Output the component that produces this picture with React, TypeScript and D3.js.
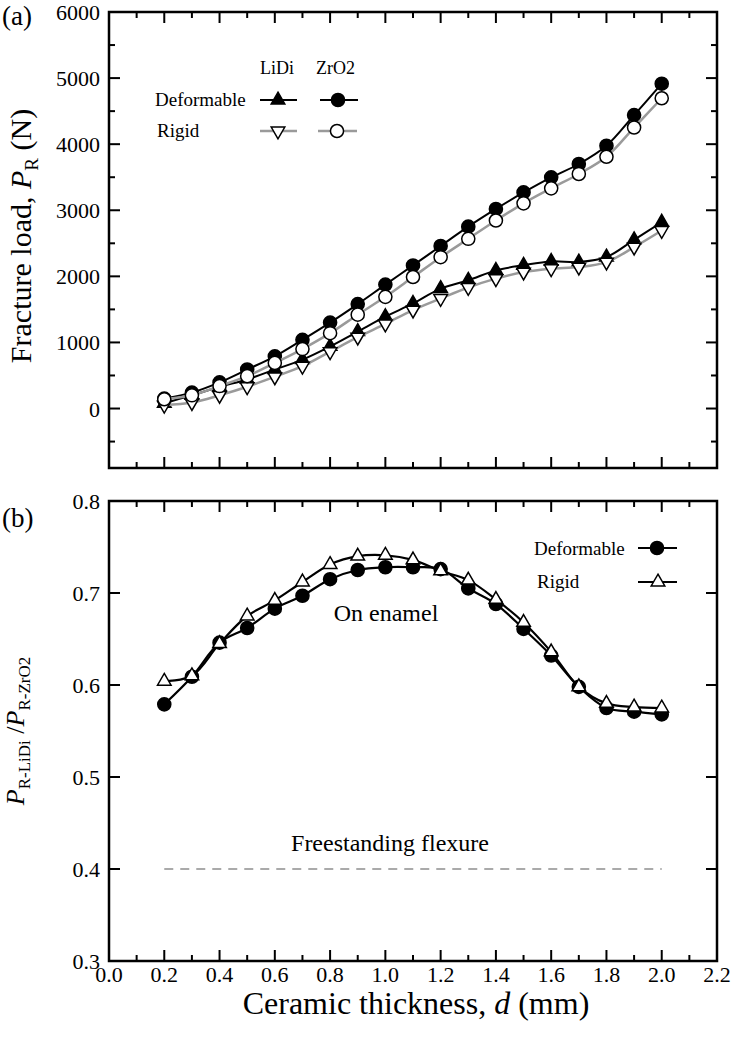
import React from "react";
import * as d3 from "d3";

const thickness = [0.2, 0.3, 0.4, 0.5, 0.6, 0.7, 0.8, 0.9, 1.0, 1.1, 1.2, 1.3, 1.4, 1.5, 1.6, 1.7, 1.8, 1.9, 2.0];
const zro2Deformable = [150, 240, 395, 590, 790, 1040, 1300, 1580, 1875, 2165, 2460, 2752, 3020, 3270, 3498, 3700, 3976, 4440, 4915];
const zro2Rigid = [140, 200, 340, 490, 690, 900, 1140, 1420, 1690, 1990, 2290, 2568, 2845, 3105, 3332, 3549, 3810, 4252, 4695];
const lidiDeformable = [80, 200, 330, 440, 590, 740, 940, 1165, 1390, 1590, 1815, 1940, 2090, 2168, 2226, 2216, 2292, 2553, 2819];
const lidiRigid = [50, 90, 200, 330, 480, 640, 860, 1080, 1280, 1490, 1665, 1832, 1965, 2065, 2116, 2140, 2216, 2442, 2694];

const ratioDeformable = [0.579, 0.609, 0.646, 0.662, 0.683, 0.697, 0.715, 0.725, 0.728, 0.728, 0.726, 0.705, 0.688, 0.661, 0.632, 0.598, 0.575, 0.571, 0.568];
const ratioRigid = [0.604, 0.610, 0.645, 0.675, 0.692, 0.712, 0.731, 0.740, 0.741, 0.736, 0.724, 0.714, 0.693, 0.668, 0.636, 0.598, 0.580, 0.576, 0.575];
const freestandingRatio = 0.4;
const freestandingRange = [0.2, 2.0];

const xTickLabels = ["0.0", "0.2", "0.4", "0.6", "0.8", "1.0", "1.2", "1.4", "1.6", "1.8", "2.0", "2.2"];
const yTicksA = [0, 1000, 2000, 3000, 4000, 5000, 6000];
const yTicksB = [0.3, 0.4, 0.5, 0.6, 0.7, 0.8];

const FONT = "'Liberation Serif', 'Times New Roman', serif";
const W = 732, H = 1048;
const L = 109, R = 717;
const A_TOP = 12, A_BOT = 468;
const B_TOP = 501, B_BOT = 961;
const GRAY = "#9a9a9a";

const x = d3.scaleLinear().domain([0, 2.2]).range([L, R]);
const yA = d3.scaleLinear().domain([-900, 6000]).range([A_BOT, A_TOP]);
const yB = d3.scaleLinear().domain([0.3, 0.8]).range([B_BOT, B_TOP]);

const circlePath = d3.symbol().type(d3.symbolCircle).size(135)()!;
const triPath = d3.symbol().type(d3.symbolTriangle).size(80)()!;

function Marker({ kind, cx, cy, fill, stroke }: { kind: string; cx: number; cy: number; fill: string; stroke: string }) {
  const d = kind === "circle" ? circlePath : triPath;
  const rot = kind === "down" ? " rotate(180)" : "";
  return <path d={d} transform={`translate(${cx},${cy})${rot}`} fill={fill} stroke={stroke} strokeWidth={1.5} />;
}

function Series({ ys, yScale, color, kind, fill, width }: any) {
  const pts: [number, number][] = thickness.map((t, i) => [x(t), yScale(ys[i])]);
  const line = d3.line().curve(d3.curveCatmullRom.alpha(0.5))(pts)!;
  return (
    <g>
      <path d={line} fill="none" stroke={color} strokeWidth={width} />
      {pts.map((p, i) => (
        <Marker key={i} kind={kind} cx={p[0]} cy={p[1]} fill={fill} stroke="#000" />
      ))}
    </g>
  );
}

function Frame({ top, bot, yScale, majorY, minorY }: any) {
  const xMinor = d3.range(1, 22).map((i) => i / 10);
  const els: any[] = [];
  xMinor.forEach((v, i) => {
    const major = Math.round(v * 10) % 2 === 0;
    const len = major ? 11 : 6;
    els.push(<line key={"xb" + i} x1={x(v)} x2={x(v)} y1={bot} y2={bot - len} stroke="#000" strokeWidth={2} />);
    els.push(<line key={"xt" + i} x1={x(v)} x2={x(v)} y1={top} y2={top + len} stroke="#000" strokeWidth={2} />);
  });
  majorY.forEach((v: number, i: number) => {
    els.push(<line key={"yl" + i} x1={L} x2={L + 11} y1={yScale(v)} y2={yScale(v)} stroke="#000" strokeWidth={2} />);
    els.push(<line key={"yr" + i} x1={R} x2={R - 11} y1={yScale(v)} y2={yScale(v)} stroke="#000" strokeWidth={2} />);
  });
  minorY.forEach((v: number, i: number) => {
    els.push(<line key={"ml" + i} x1={L} x2={L + 6} y1={yScale(v)} y2={yScale(v)} stroke="#000" strokeWidth={2} />);
    els.push(<line key={"mr" + i} x1={R} x2={R - 6} y1={yScale(v)} y2={yScale(v)} stroke="#000" strokeWidth={2} />);
  });
  return (
    <g>
      {els}
      <rect x={L} y={top} width={R - L} height={bot - top} fill="none" stroke="#000" strokeWidth={2.5} />
    </g>
  );
}

export default function App() {
  const minorA = [-500, 500, 1500, 2500, 3500, 4500, 5500];
  return (
    <svg width={W} height={H} style={{ position: "absolute", left: 0, top: 0, background: "#fff" }} fontFamily={FONT}>
      <rect width={W} height={H} fill="#fff" />
      {/* Panel (a) */}
      <text x={2} y={25} fontSize={27}>(a)</text>
      <Frame top={A_TOP} bot={A_BOT} yScale={yA} majorY={yTicksA} minorY={minorA} />
      {yTicksA.map((v) => (
        <text key={v} x={100} y={yA(v) + 8} fontSize={22} textAnchor="end">{v}</text>
      ))}
      <text transform={`translate(31,${(A_TOP + A_BOT) / 2 - 4}) rotate(-90)`} fontSize={30} textAnchor="middle">
        Fracture load, <tspan fontStyle="italic">P</tspan><tspan fontSize={19} dy={7}>R</tspan><tspan dy={-7}> (N)</tspan>
      </text>
      <Series ys={lidiDeformable} yScale={yA} color="#000" kind="up" fill="#000" width={2} />
      <Series ys={zro2Deformable} yScale={yA} color="#000" kind="circle" fill="#000" width={2} />
      <Series ys={lidiRigid} yScale={yA} color={GRAY} kind="down" fill="#fff" width={2.5} />
      <Series ys={zro2Rigid} yScale={yA} color={GRAY} kind="circle" fill="#fff" width={2.5} />
      {/* legend (a) */}
      <text x={260} y={74} fontSize={18}>LiDi</text>
      <text x={316} y={74} fontSize={18}>ZrO2</text>
      <text x={155} y={106} fontSize={19}>Deformable</text>
      <text x={157} y={137} fontSize={19}>Rigid</text>
      <line x1={260} x2={297} y1={100} y2={100} stroke="#000" strokeWidth={2} />
      <Marker kind="up" cx={278} cy={100} fill="#000" stroke="#000" />
      <line x1={320} x2={358} y1={100} y2={100} stroke="#000" strokeWidth={2} />
      <Marker kind="circle" cx={338} cy={100} fill="#000" stroke="#000" />
      <line x1={260} x2={297} y1={131} y2={131} stroke={GRAY} strokeWidth={2.5} />
      <Marker kind="down" cx={278} cy={131} fill="#fff" stroke="#000" />
      <line x1={318} x2={357} y1={131} y2={131} stroke={GRAY} strokeWidth={2.5} />
      <Marker kind="circle" cx={337} cy={131} fill="#fff" stroke="#000" />

      {/* Panel (b) */}
      <text x={2} y={527} fontSize={27}>(b)</text>
      <Frame top={B_TOP} bot={B_BOT} yScale={yB} majorY={yTicksB} minorY={[]} />
      {yTicksB.map((v) => (
        <text key={v} x={100} y={yB(v) + 8} fontSize={22} textAnchor="end">{v.toFixed(1)}</text>
      ))}
      {xTickLabels.map((s) => (
        <text key={s} x={x(+s)} y={982} fontSize={22} textAnchor="middle">{s}</text>
      ))}
      <text transform={`translate(24,${(B_TOP + B_BOT) / 2}) rotate(-90)`} fontSize={26} textAnchor="middle">
        <tspan fontStyle="italic">P</tspan><tspan fontSize={17} dy={6}>R-LiDi</tspan><tspan dy={-6}> /</tspan><tspan fontStyle="italic">P</tspan><tspan fontSize={17} dy={6}>R-ZrO2</tspan>
      </text>
      <line x1={x(freestandingRange[0])} x2={x(freestandingRange[1])} y1={yB(freestandingRatio)} y2={yB(freestandingRatio)} stroke="#aaa" strokeWidth={2} strokeDasharray="9,7" />
      <text x={390} y={851} fontSize={24} textAnchor="middle">Freestanding flexure</text>
      <text x={386} y={621} fontSize={24} textAnchor="middle">On enamel</text>
      <Series ys={ratioDeformable} yScale={yB} color="#000" kind="circle" fill="#000" width={2.2} />
      <Series ys={ratioRigid} yScale={yB} color="#000" kind="up" fill="#fff" width={2.2} />
      {/* legend (b) */}
      <text x={534} y={555} fontSize={19}>Deformable</text>
      <text x={537} y={588} fontSize={19}>Rigid</text>
      <line x1={638} x2={677} y1={548} y2={548} stroke="#000" strokeWidth={2} />
      <Marker kind="circle" cx={657} cy={548} fill="#000" stroke="#000" />
      <line x1={638} x2={677} y1={582} y2={582} stroke="#000" strokeWidth={2} />
      <Marker kind="up" cx={658} cy={582} fill="#fff" stroke="#000" />

      <text x={416} y={1014} fontSize={32} textAnchor="middle">
        Ceramic thickness, <tspan fontStyle="italic">d</tspan> (mm)
      </text>
    </svg>
  );
}
